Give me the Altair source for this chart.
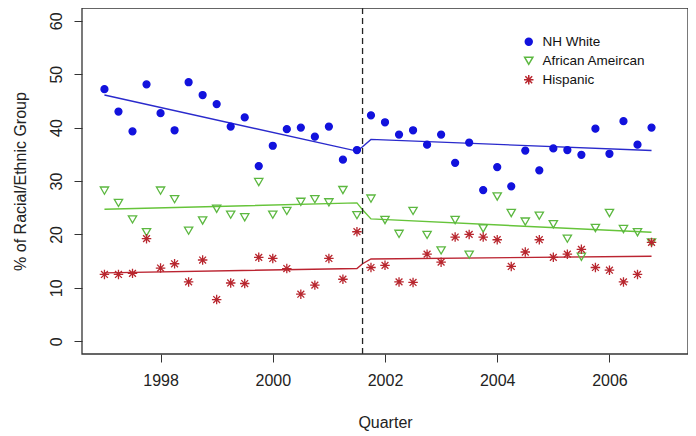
import altair as alt
import pandas as pd

quarters = [1997.0, 1997.25, 1997.5, 1997.75, 1998.0, 1998.25, 1998.5, 1998.75,
            1999.0, 1999.25, 1999.5, 1999.75, 2000.0, 2000.25, 2000.5, 2000.75,
            2001.0, 2001.25, 2001.5, 2001.75, 2002.0, 2002.25, 2002.5, 2002.75,
            2003.0, 2003.25, 2003.5, 2003.75, 2004.0, 2004.25, 2004.5, 2004.75,
            2005.0, 2005.25, 2005.5, 2005.75, 2006.0, 2006.25, 2006.5, 2006.75]

nh_white = [47.2, 43.0, 39.3, 48.1, 42.7, 39.5, 48.5, 46.1, 44.4, 40.2,
            41.9, 32.8, 36.6, 39.7, 40.0, 38.3, 40.2, 34.0, 35.8, 42.3,
            41.0, 38.7, 39.5, 36.8, 38.7, 33.4, 37.2, 28.3, 32.6, 29.0,
            35.7, 32.0, 36.1, 35.8, 34.9, 39.8, 35.1, 41.2, 36.8, 40.0]
african_american = [28.2, 25.9, 22.8, 20.4, 28.2, 26.6, 20.7, 22.6, 24.8, 23.7,
                    23.2, 29.8, 23.7, 24.4, 26.1, 26.6, 26.0, 28.3, 23.6, 26.7,
                    22.7, 20.1, 24.4, 19.9, 17.0, 22.7, 16.2, 21.1, 27.1, 24.0,
                    22.4, 23.5, 21.9, 19.2, 15.8, 21.2, 24.0, 21.0, 20.4, 18.5]
hispanic = [12.5, 12.5, 12.7, 19.2, 13.7, 14.5, 11.1, 15.2, 7.8, 10.9,
            10.8, 15.7, 15.5, 13.6, 8.8, 10.5, 15.5, 11.6, 20.5, 13.8,
            14.2, 11.1, 11.0, 16.3, 14.8, 19.5, 20.0, 19.5, 19.0, 14.0,
            16.7, 19.0, 15.7, 16.3, 17.2, 13.8, 13.3, 11.1, 12.5, 18.5]

series_names = ["NH White", "African Ameircan", "Hispanic"]
series_colors = ["#1212dd", "#5cb840", "#b8262e"]
line_colors = ["#2a2acc", "#66c43a", "#bb2431"]

fit_x = [1997.0, 2001.5, 2001.6, 2001.75, 2006.75]
fit_white = [46.1, 35.6, 36.4, 37.8, 35.7]
fit_aa = [24.7, 25.9, 24.6, 22.9, 20.4]
fit_hisp = [12.8, 13.6, 14.5, 15.4, 15.9]

break_year = [2001.6]
x_ticks = [1998, 2000, 2002, 2004, 2006]
y_ticks = [0, 10, 20, 30, 40, 50, 60]

rows = []
for name, vals in zip(series_names, [nh_white, african_american, hispanic]):
    for q, v in zip(quarters, vals):
        rows.append({"quarter": q, "pct": v, "group": name})
pts = pd.DataFrame(rows)

asterisk = "M-1,0L1,0M0,-1L0,1M-0.72,-0.72L0.72,0.72M-0.72,0.72L0.72,-0.72"

xscale = alt.Scale(domain=[1996.6, 2007.4], nice=False, zero=False)
yscale = alt.Scale(domain=[-2.4, 62.4], nice=False, zero=False)

xaxis = alt.Axis(values=x_ticks, format="d", title="Quarter", grid=False, domain=False,
                 tickSize=8, tickColor="#333", labelPadding=10, titlePadding=26,
                 labelFontSize=16, titleFontSize=16, labelColor="#222", titleColor="#222",
                 labelFont="Liberation Sans", titleFont="Liberation Sans", titleFontWeight="normal")
yaxis = alt.Axis(values=y_ticks, title="% of Racial/Ethnic Group", grid=False, domain=False,
                 tickSize=8, tickColor="#333", labelAngle=-90, labelAlign="center",
                 labelBaseline="bottom", labelPadding=10, titlePadding=20,
                 labelFontSize=16, titleFontSize=16, labelColor="#222", titleColor="#222",
                 labelFont="Liberation Sans", titleFont="Liberation Sans", titleFontWeight="normal")

legend = alt.Legend(title=None, orient="none", legendX=440, legendY=27, labelFontSize=13.5,
                    labelFont="Liberation Sans", labelColor="#111", rowPadding=4,
                    labelOffset=7, padding=0)

points = alt.Chart(pts).mark_point(strokeWidth=1.3, opacity=1).encode(
    x=alt.X("quarter:Q", scale=xscale, axis=xaxis),
    y=alt.Y("pct:Q", scale=yscale, axis=yaxis),
    color=alt.Color("group:N", scale=alt.Scale(domain=series_names, range=series_colors),
                    legend=legend),
    shape=alt.Shape("group:N", scale=alt.Scale(domain=series_names,
                                               range=["circle", "triangle-down", asterisk]),
                    legend=legend),
    fill=alt.Fill("group:N", scale=alt.Scale(domain=series_names,
                                             range=[series_colors[0], "transparent", "transparent"]),
                  legend=legend),
    size=alt.Size("group:N", scale=alt.Scale(domain=series_names, range=[48, 90, 110]),
                  legend=legend),
)

def fit_layer(vals, color):
    df = pd.DataFrame({"quarter": fit_x, "pct": vals})
    return alt.Chart(df).mark_line(color=color, strokeWidth=1.4).encode(
        x=alt.X("quarter:Q", scale=xscale),
        y=alt.Y("pct:Q", scale=yscale),
    )

rule = alt.Chart(pd.DataFrame({"b": break_year})).mark_rule(
    color="#222", strokeDash=[6, 4], strokeWidth=1.3
).encode(x=alt.X("b:Q", scale=xscale))

frame = alt.Chart(pd.DataFrame({"f": [0]})).mark_rect(
    fill=None, stroke="#333", strokeWidth=1.3
).encode(
    x=alt.value(0), x2=alt.value(606), y=alt.value(0), y2=alt.value(346)
)

chart = alt.layer(
    fit_layer(fit_white, line_colors[0]),
    fit_layer(fit_aa, line_colors[1]),
    fit_layer(fit_hisp, line_colors[2]),
    rule,
    points,
    frame,
).properties(
    width=606, height=346,
    padding={"left": 74, "top": 0, "right": 0, "bottom": 80},
    autosize=alt.AutoSizeParams(type="none"),
    background="white",
).configure_view(
    stroke=None
)

chart.save("out.html", embed_options={"renderer": "svg", "actions": False})
